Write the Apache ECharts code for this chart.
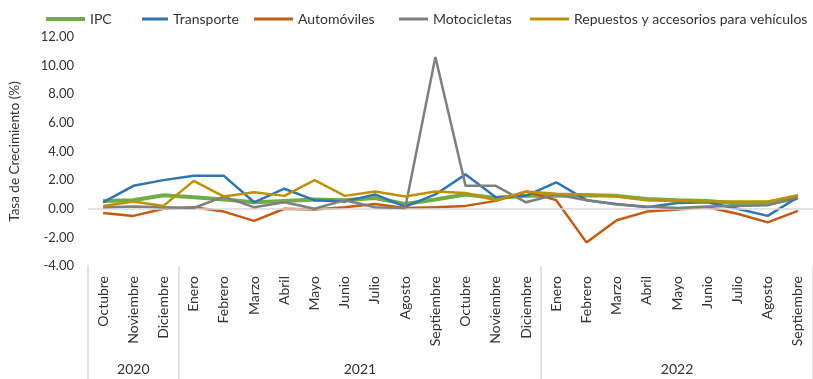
<!DOCTYPE html>
<html>
<head>
<meta charset="utf-8">
<script src="https://cdn.jsdelivr.net/npm/echarts@6/dist/echarts.min.js"></script>
<style>
  html, body { margin: 0; padding: 0; background: #ffffff; }
  #chart { width: 813px; height: 379px; }
</style>
</head>
<body>
<div id="chart"></div>
<script>
// Months from October 2020 to September 2022, grouped by year
const months = ['Octubre', 'Noviembre', 'Diciembre',
  'Enero', 'Febrero', 'Marzo', 'Abril', 'Mayo', 'Junio', 'Julio', 'Agosto', 'Septiembre', 'Octubre', 'Noviembre', 'Diciembre',
  'Enero', 'Febrero', 'Marzo', 'Abril', 'Mayo', 'Junio', 'Julio', 'Agosto', 'Septiembre'];
const years = ['2020', '2021', '2022'];
const monthsPerYear = [3, 12, 9];

// Monthly growth rates (%)
const ipc          = [0.55, 0.60, 0.95, 0.80, 0.65, 0.45, 0.55, 0.65, 0.60, 0.75, 0.33, 0.65, 1.00, 0.75, 0.90, 0.90, 0.95, 0.90, 0.68, 0.60, 0.55, 0.37, 0.33, 0.75];
const transporte   = [0.45, 1.60, 2.00, 2.30, 2.30, 0.45, 1.40, 0.60, 0.50, 1.00, 0.15, 1.00, 2.40, 0.80, 0.90, 1.85, 0.60, 0.33, 0.10, 0.40, 0.45, 0.00, -0.50, 0.80];
const automoviles  = [-0.30, -0.50, 0.00, 0.10, -0.20, -0.85, 0.00, -0.05, 0.10, 0.33, 0.05, 0.10, 0.20, 0.55, 1.20, 0.60, -2.35, -0.80, -0.20, -0.05, 0.10, -0.35, -0.95, -0.15];
const motocicletas = [0.10, 0.15, 0.10, 0.05, 0.85, 0.10, 0.45, 0.00, 0.60, 0.10, 0.05, 10.60, 1.60, 1.60, 0.45, 1.00, 0.60, 0.30, 0.15, 0.05, 0.15, 0.20, 0.25, 0.80];
const repuestos    = [0.20, 0.50, 0.20, 1.95, 0.85, 1.15, 0.90, 2.00, 0.90, 1.20, 0.85, 1.20, 1.10, 0.60, 1.20, 1.05, 1.00, 0.85, 0.60, 0.55, 0.50, 0.50, 0.50, 0.95];

const seriesDefs = [
  { name: 'IPC', data: ipc, color: '#70ad47', width: 4 },
  { name: 'Transporte', data: transporte, color: '#2e75b6', width: 2.5 },
  { name: 'Automóviles', data: automoviles, color: '#c55a11', width: 2.5 },
  { name: 'Motocicletas', data: motocicletas, color: '#7f7f7f', width: 2.5 },
  { name: 'Repuestos y accesorios para vehículos', data: repuestos, color: '#bf9000', width: 2.5 }
];
// Legend entry placement (left edge and swatch length)
const legendLeft = [41, 137, 249, 394, 525];
const legendSwatch = [39, 26, 39, 29, 39];

// Year group boundaries and centres on the month scale
const boundaries = [0];
monthsPerYear.forEach(n => boundaries.push(boundaries[boundaries.length - 1] + n));
const centres = monthsPerYear.map((n, i) => boundaries[i] + n / 2);

const FONT = 'Lato';
const TEXT = '#333333';

const chart = echarts.init(document.getElementById('chart'), null, { renderer: 'canvas' });

chart.setOption({
  animation: false,
  backgroundColor: '#ffffff',
  textStyle: { fontFamily: FONT },
  legend: seriesDefs.map((s, i) => ({
    data: [s.name],
    left: legendLeft[i],
    top: 7,
    icon: 'rect',
    itemWidth: legendSwatch[i],
    itemHeight: s.width === 4 ? 4 : 3,
    itemGap: 0,
    textStyle: { fontFamily: FONT, fontSize: 14, color: TEXT }
  })),
  grid: { left: 82, top: 37, width: 734, height: 229, containLabel: false },
  xAxis: [
    {
      type: 'category',
      data: months,
      boundaryGap: true,
      axisLine: { show: false },
      axisTick: { show: false },
      splitLine: { show: false },
      axisLabel: {
        rotate: 90, interval: 0, margin: 10,
        fontFamily: FONT, fontSize: 14, color: TEXT
      }
    },
    {
      type: 'value',
      position: 'bottom',
      min: 0,
      max: boundaries[boundaries.length - 1],
      axisLine: { show: false },
      splitLine: { show: false },
      axisTick: {
        show: true,
        customValues: boundaries,
        length: 113,
        lineStyle: { color: '#d9d9d9', width: 1.5 }
      },
      axisLabel: {
        customValues: centres,
        margin: 96,
        fontFamily: FONT, fontSize: 14, color: TEXT,
        formatter: v => years[centres.indexOf(v)] || ''
      }
    }
  ],
  yAxis: {
    type: 'value',
    min: -4, max: 12, interval: 2,
    name: 'Tasa de Crecimiento (%)',
    nameLocation: 'middle',
    nameGap: 66,
    nameTextStyle: { fontFamily: FONT, fontSize: 13.5, color: TEXT },
    axisLine: { show: false },
    axisTick: { show: false },
    splitLine: { show: false },
    axisLabel: {
      margin: 14,
      fontFamily: FONT, fontSize: 13, color: TEXT,
      formatter: v => v.toFixed(2)
    }
  },
  series: seriesDefs.map((s, i) => ({
    name: s.name,
    type: 'line',
    xAxisIndex: 0,
    data: s.data,
    symbol: 'none',
    showSymbol: false,
    smooth: false,
    color: s.color,
    lineStyle: { color: s.color, width: s.width },
    z: 2 + i,
    markLine: i === 0 ? {
      silent: true,
      symbol: 'none',
      label: { show: false },
      lineStyle: { color: '#d9d9d9', width: 1.5, type: 'solid' },
      data: [{ yAxis: 0 }]
    } : undefined
  }))
});
</script>
</body>
</html>
